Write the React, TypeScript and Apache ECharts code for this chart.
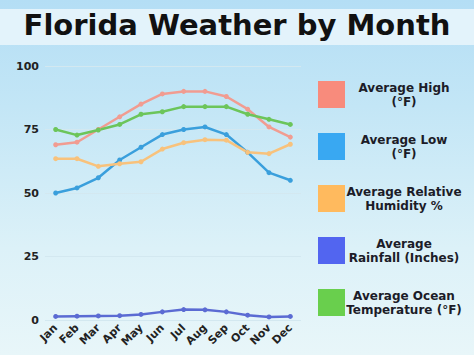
import React, { useEffect, useRef } from "react";
import * as echarts from "echarts";

const months = ["Jan", "Feb", "Mar", "Apr", "May", "Jun", "Jul", "Aug", "Sep", "Oct", "Nov", "Dec"];
const avgHigh = [69, 70, 75, 80, 85, 89, 90, 90, 88, 83, 76, 72];
const avgLow = [50, 52, 56, 63, 68, 73, 75, 76, 73, 66, 58, 55];
const humidity = [63.5, 63.5, 60.5, 61.5, 62.3, 67.3, 69.8, 71, 70.8, 66, 65.5, 69.2];
const rainfall = [1.4, 1.5, 1.6, 1.7, 2.2, 3.2, 4.1, 4.0, 3.2, 1.9, 1.2, 1.4];
const oceanTemp = [75, 72.8, 74.8, 77, 81, 82, 84, 84, 84, 81, 79, 77];
const yTicks = [0, 25, 50, 75, 100];

const seriesNames = [
  "Average High\n(°F)",
  "Average Low\n(°F)",
  "Average Relative\nHumidity %",
  "Average\nRainfall (Inches)",
  "Average Ocean\nTemperature (°F)",
];
const seriesData = [avgHigh, avgLow, humidity, rainfall, oceanTemp];
const lineColors = ["#F19C91", "#3A9FDC", "#F8C27C", "#5B6BD3", "#6CC55A"];
const legendColors = ["#F88B7C", "#39A8F2", "#FFBA5E", "#5265F0", "#69CF4D"];

export default function App() {
  const ref = useRef<HTMLDivElement>(null);
  useEffect(() => {
    if (!ref.current) return;
    const chart = echarts.init(ref.current, null, { renderer: "svg" });
    const fontFamily = "'DejaVu Sans', sans-serif";
    chart.setOption({
      animation: false,
      graphic: [
        {
          type: "rect",
          shape: { x: 0, y: 9, width: 474, height: 36 },
          style: { fill: "#e3f3fb" },
          z: -1,
          silent: true,
        },
        {
          type: "text",
          left: "center",
          top: 10,
          style: {
            text: "Florida Weather by Month",
            font: "bold 29px 'DejaVu Sans', sans-serif",
            fill: "#111111",
          },
        },
      ],
      grid: { left: 45, right: 173, top: 66, bottom: 35 },
      xAxis: {
        type: "category",
        data: months,
        boundaryGap: true,
        axisTick: { show: false },
        axisLine: { show: false },
        axisLabel: {
          rotate: 45,
          fontFamily,
          fontWeight: "bold",
          fontSize: 11,
          color: "#222",
          margin: 6,
        },
      },
      yAxis: {
        type: "value",
        min: 0,
        max: 100,
        interval: 25,
        axisLabel: {
          fontFamily,
          fontWeight: "bold",
          fontSize: 11,
          color: "#222",
          margin: 6,
          formatter: (v: number) => (yTicks.includes(v) ? String(v) : ""),
        },
        splitLine: { lineStyle: { color: "#d3e8f0", width: 1 } },
        axisLine: { show: false },
        axisTick: { show: false },
      },
      legend: {
        orient: "vertical",
        left: 313,
        top: 76,
        itemWidth: 27,
        itemHeight: 27,
        itemGap: 25,
        icon: "rect",
        data: seriesNames.map((n, i) => ({
          name: n,
          itemStyle: { color: legendColors[i] },
        })),
        formatter: (name: string) =>
          name
            .split("\n")
            .map((l) => `{a|${l}}`)
            .join("\n"),
        textStyle: {
          rich: {
            a: {
              width: 108,
              align: "center",
              fontFamily,
              fontWeight: "bold",
              fontSize: 12,
              lineHeight: 14,
              color: "#1c1c28",
            },
          },
        },
      },
      series: seriesNames.map((n, i) => ({
        name: n,
        type: "line",
        data: seriesData[i],
        symbol: "circle",
        symbolSize: 5,
        lineStyle: { width: 2.5, color: lineColors[i] },
        itemStyle: { color: lineColors[i] },
      })),
    });
    return () => chart.dispose();
  }, []);
  return (
    <div
      ref={ref}
      style={{
        position: "fixed",
        left: 0,
        top: 0,
        width: 474,
        height: 355,
        background: "linear-gradient(180deg, #b4def5 0%, #c3e6f6 30%, #dcf1f8 70%, #e8f6f9 100%)",
      }}
    />
  );
}
